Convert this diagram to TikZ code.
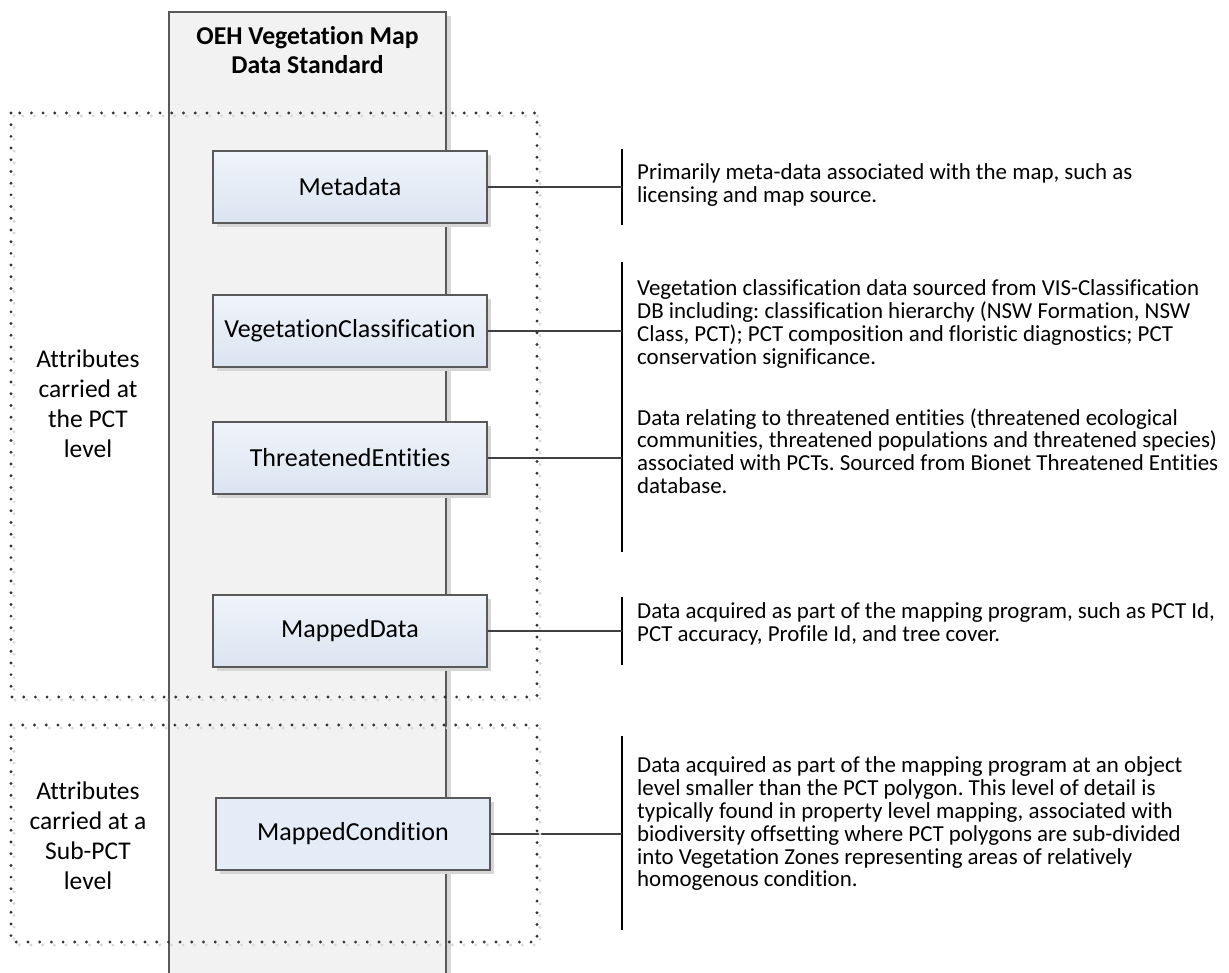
\documentclass[tikz,border=0pt]{standalone}
\usepackage{fontspec}
\setmainfont{Carlito}[Ligatures={NoCommon}]
\frenchspacing
\usetikzlibrary{shadows}
\definecolor{colfill}{HTML}{F2F2F2}
\definecolor{edgegray}{HTML}{595959}
\definecolor{boxtop}{HTML}{F0F4FA}
\definecolor{boxbot}{HTML}{DAE4F1}
\definecolor{boxflat}{HTML}{E4ECF7}
\definecolor{dotdark}{HTML}{404040}
\definecolor{dotlight}{HTML}{D8D8D8}
\definecolor{shadowgray}{HTML}{D6D6D6}
\tikzset{
  x=1pt, y=-1pt,
  clsbox/.style={draw=edgegray, line width=1.2pt, minimum width=274pt, minimum height=72pt,
    inner sep=0pt, font=\fontsize{26}{30}\selectfont,
    top color=boxtop, bottom color=boxbot,
    drop shadow={shadow xshift=4pt, shadow yshift=-4pt, fill=shadowgray, opacity=1}},
  flatbox/.style={clsbox, top color=boxflat, bottom color=boxflat},
  desc/.style={anchor=west, inner sep=0pt, align=left, font=\frenchspacing\fontsize{22.9}{22.8}\selectfont},
  sidelabel/.style={inner sep=0pt, align=center, font=\fontsize{25.5}{30}\selectfont},
  link/.style={draw=dotdark, line width=1.2pt},
  brack/.style={draw=black, line width=1.2pt},
  dotmain/.style={draw=black!80, line width=3.2pt, line cap=round, dash pattern=on 0pt off 11.7pt},
  dotshade/.style={draw=dotlight, line width=3.2pt, line cap=round, dash pattern=on 0pt off 11.7pt},
}
\begin{document}
\begin{tikzpicture}
\path[use as bounding box, clip] (0,0) rectangle (1229,973);
\fill[white] (0,0) rectangle (1229,973);

% column
\fill[black!15] (446,16) rectangle (451,990);
\draw[edgegray, line width=1.2pt, fill=colfill] (169,990) -- (169,12) -- (446,12) -- (446,990);
\node[inner sep=0pt, align=center, font=\bfseries\fontsize{25.7}{29}\selectfont] (hdr) at (307.5,50) {OEH Vegetation Map\\Data Standard};

% boxes
\node[clsbox] (meta) at (350,187) {Metadata};
\node[clsbox] (veg) at (350,331) {VegetationClassification};
\node[clsbox] (thr) at (350,458) {ThreatenedEntities};
\node[clsbox] (mdat) at (350,631) {MappedData};
\node[flatbox] (mcond) at (353,834) {MappedCondition};

% brackets
\coordinate (b1t) at (622,149); \coordinate (b1b) at (622,225);
\coordinate (b2t) at (622,262); \coordinate (b2b) at (622,402);
\coordinate (b3t) at (622,385); \coordinate (b3b) at (622,552);
\coordinate (b4t) at (622,597); \coordinate (b4b) at (622,665);
\coordinate (b5t) at (622,736); \coordinate (b5b) at (622,930);
\foreach \t/\b in {b1t/b1b,b2t/b2b,b3t/b3b,b4t/b4b,b5t/b5b} \draw[brack] (\t) -- (\b);

\draw[link] (meta.east) -- (meta.east -| b1t);
\draw[link] (veg.east) -- (veg.east -| b2t);
\draw[link] (thr.east) -- (thr.east -| b3t);
\draw[link] (mdat.east) -- (mdat.east -| b4t);
\draw[link] (mcond.east) -- (mcond.east -| b5t);

% descriptions
\node[desc] (d1) at (637,185) {Primarily meta-data associated with the map, such as\\licensing and map source.};
\node[desc] (d2) at (637,324) {Vegetation classification data sourced from VIS-Classification\\DB including: classification hierarchy (NSW Formation, NSW\\Class, PCT); PCT composition and floristic diagnostics; PCT\\conservation significance.};
\node[desc] (d3) at (637,451) {Data relating to threatened entities (threatened ecological\\communities, threatened populations and threatened species)\\associated with PCTs. Sourced from Bionet Threatened Entities\\database.};
\node[desc] (d4) at (637,624) {Data acquired as part of the mapping program, such as PCT Id,\\PCT accuracy, Profile Id, and tree cover.};
\node[desc] (d5) at (637,824) {Data acquired as part of the mapping program at an object\\level smaller than the PCT polygon. This level of detail is\\typically found in property level mapping, associated with\\biodiversity offsetting where PCT polygons are sub-divided\\into Vegetation Zones representing areas of relatively\\homogenous condition.};

% side labels
\node[sidelabel] (l1) at (88,404) {Attributes\\carried at\\the PCT\\level};
\node[sidelabel] (l2) at (88,836) {Attributes\\carried at a\\Sub-PCT\\level};

% dotted groups
\draw[dotshade] (14,116) rectangle (540,700);
\draw[dotmain] (11,113) rectangle (537,697);
\draw[dotshade] (14,728) rectangle (540,945);
\draw[dotmain] (11,725) rectangle (537,942);
\end{tikzpicture}
\end{document}
